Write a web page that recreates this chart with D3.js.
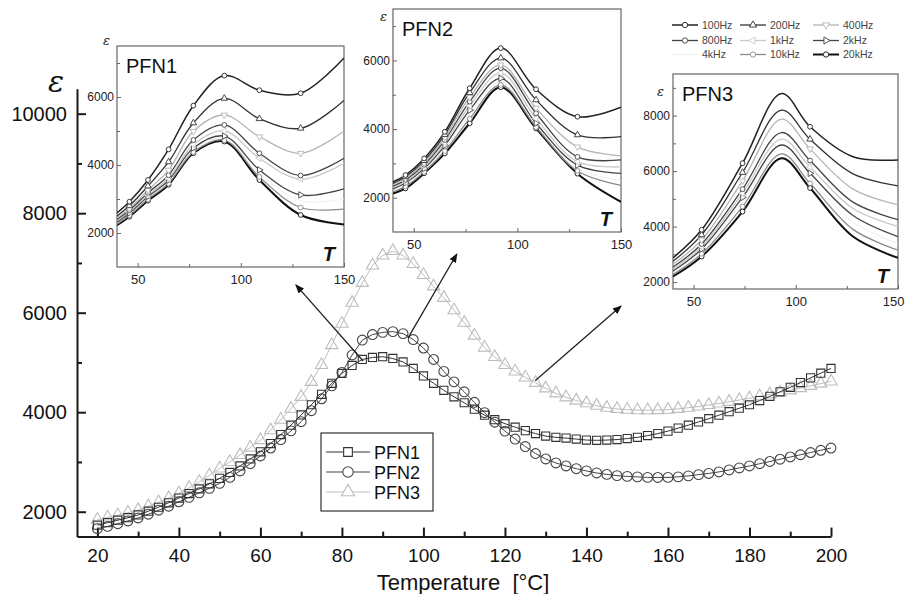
<!DOCTYPE html>
<html>
<head>
<meta charset="utf-8">
<script src="https://cdn.jsdelivr.net/npm/d3@7"></script>
<style>
  body { margin: 0; background: #fff; }
  svg { display: block; font-family: "Liberation Sans", Arial, sans-serif; }
</style>
</head>
<body>
<script>
// main chart data (temperature in °C, permittivity)
const temps = [20, 22.5, 25, 27.5, 30, 32.5, 35, 37.5, 40, 42.5, 45, 47.5, 50, 52.5, 55, 57.5, 60, 62.5, 65, 67.5,
  70, 72.5, 75, 77.5, 80, 82.5, 85, 87.5, 90, 92.5, 95, 97.5, 100, 102.5, 105, 107.5, 110, 112.5, 115, 117.5,
  120, 122.5, 125, 127.5, 130, 132.5, 135, 137.5, 140, 142.5, 145, 147.5, 150, 152.5, 155, 157.5, 160, 162.5,
  165, 167.5, 170, 172.5, 175, 177.5, 180, 182.5, 185, 187.5, 190, 192.5, 195, 197.5, 200];

const pfn1 = [1730, 1780, 1830, 1880, 1935, 2010, 2090, 2180, 2275, 2365, 2460, 2560, 2670, 2790, 2920, 3060, 3205, 3370, 3550, 3740,
  3945, 4150, 4360, 4580, 4780, 4940, 5060, 5100, 5115, 5080, 5010, 4880, 4730, 4580, 4440, 4310, 4190, 4060, 3940, 3850,
  3770, 3700, 3630, 3570, 3520, 3495, 3480, 3460, 3440, 3435, 3440, 3450, 3470, 3495, 3530, 3570, 3620, 3680,
  3740, 3805, 3870, 3940, 4010, 4080, 4150, 4235, 4320, 4410, 4500, 4595, 4690, 4785, 4880];

const pfn2 = [1660, 1705, 1760, 1815, 1875, 1950, 2030, 2110, 2200, 2290, 2380, 2470, 2570, 2690, 2820, 2965, 3120, 3280, 3450, 3625,
  3810, 4030, 4270, 4530, 4800, 5150, 5450, 5560, 5605, 5620, 5580, 5460, 5290, 5060, 4820, 4610, 4410, 4200, 3990, 3800,
  3620, 3460, 3310, 3170, 3060, 2980, 2920, 2865, 2820, 2780, 2750, 2725, 2710, 2700, 2690, 2688, 2690, 2700,
  2720, 2745, 2770, 2800, 2840, 2880, 2920, 2965, 3010, 3055, 3100, 3145, 3190, 3235, 3280];

const pfn3 = [1840, 1885, 1930, 1980, 2035, 2110, 2190, 2275, 2370, 2480, 2600, 2730, 2870, 3000, 3140, 3290, 3440, 3640, 3850, 4070,
  4310, 4610, 4950, 5350, 5780, 6200, 6600, 6950, 7150, 7240, 7150, 6980, 6760, 6530, 6300, 6050, 5800, 5540, 5300, 5110,
  4950, 4820, 4700, 4590, 4480, 4380, 4300, 4235, 4180, 4130, 4090, 4065, 4050, 4042, 4040, 4043, 4050, 4068,
  4090, 4115, 4145, 4175, 4210, 4245, 4280, 4320, 4360, 4400, 4440, 4485, 4530, 4575, 4620];

const seriesNames = ["PFN1", "PFN2", "PFN3"];
const xTicks = [20, 40, 60, 80, 100, 120, 140, 160, 180, 200];
const xMinor = [30, 50, 70, 90, 110, 130, 150, 170, 190];
const yTicks = [2000, 4000, 6000, 8000, 10000];
const yMinor = [3000, 5000, 7000, 9000];

// inset data: one row per frequency
const freqNames = ["100Hz", "200Hz", "400Hz", "800Hz", "1kHz", "2kHz", "4kHz", "10kHz", "20kHz"];
const insetT = [40, 46, 55, 65, 77, 92, 109, 129, 150];
const pfn1Freq = [
  [2590, 2920, 3560, 4460, 5745, 6630, 6200, 6110, 7150],
  [2500, 2800, 3380, 4090, 5235, 5960, 5360, 5080, 5900],
  [2440, 2720, 3260, 3850, 4990, 5470, 4830, 4345, 5000],
  [2400, 2670, 3180, 3700, 4735, 5180, 4345, 3690, 4200],
  [2360, 2630, 3120, 3610, 4600, 5000, 4200, 3580, 4050],
  [2320, 2590, 3070, 3550, 4500, 4850, 3855, 3120, 3300],
  [2290, 2560, 3030, 3510, 4440, 4780, 3750, 2950, 3000],
  [2260, 2520, 2990, 3460, 4380, 4735, 3650, 2750, 2700],
  [2230, 2480, 2950, 3420, 4345, 4690, 3560, 2530, 2250]
];
const pfn2Freq = [
  [2460, 2660, 3145, 3920, 5190, 6360, 5160, 4360, 4635],
  [2420, 2610, 3080, 3840, 5060, 6070, 4850, 3830, 3780],
  [2380, 2560, 3020, 3760, 4930, 5870, 4610, 3480, 3220],
  [2340, 2520, 2960, 3680, 4800, 5775, 4460, 3190, 3100],
  [2300, 2470, 2900, 3600, 4680, 5630, 4310, 3050, 2900],
  [2260, 2430, 2850, 3520, 4550, 5480, 4170, 2950, 2710],
  [2220, 2380, 2800, 3440, 4430, 5380, 4100, 2850, 2500],
  [2170, 2330, 2750, 3360, 4300, 5290, 4060, 2780, 2360],
  [2120, 2270, 2710, 3290, 4170, 5220, 4020, 2700, 1880]
];
const insetT3 = [40, 54, 74, 93, 107, 128, 150];
const pfn3Freq = [
  [2870, 3885, 6285, 8800, 7600, 6520, 6400],
  [2750, 3700, 5950, 8200, 7150, 5900, 5470],
  [2640, 3520, 5650, 7870, 6800, 5350, 4780],
  [2540, 3370, 5350, 7390, 6380, 4880, 4250],
  [2470, 3280, 5200, 7150, 6150, 4650, 4000],
  [2400, 3190, 5050, 6940, 5920, 4400, 3640],
  [2340, 3110, 4900, 6800, 5750, 4150, 3400],
  [2270, 3020, 4720, 6620, 5560, 3900, 3150],
  [2200, 2920, 4540, 6460, 5390, 3640, 2870]
];

// arrows from the main curves to the insets, in data units [T, eps]
const arrowFrom = [[85.2, 5030], [96.2, 5490], [127.4, 4630]];
const arrowTo = [[68.7, 6560], [108.2, 7180], [148.5, 6135]];

const W = 906, H = 594;
const svg = d3.select("body").append("svg").attr("width", W).attr("height", H);

const x = d3.scaleLinear().domain([15, 200]).range([77, 831]);
const y = d3.scaleLinear().domain([1500, 10500]).range([536.6, 88.8]);
const fmt = d3.format("d");

// axes
const axisCol = "#1a1a1a";
const yAx = svg.append("g").attr("transform", "translate(77,0)")
  .call(d3.axisLeft(y).tickValues(yTicks).tickFormat(fmt).tickSize(-9).tickSizeOuter(0).tickPadding(10));
svg.append("g").attr("transform", "translate(77,0)")
  .call(d3.axisLeft(y).tickValues(yMinor).tickSize(-5).tickFormat("").tickSizeOuter(0))
  .select(".domain").remove();
const xAx = svg.append("g").attr("transform", "translate(0,536.6)")
  .call(d3.axisBottom(x).tickValues(xTicks).tickFormat(fmt).tickSize(-9).tickSizeOuter(0).tickPadding(12));
svg.append("g").attr("transform", "translate(0,536.6)")
  .call(d3.axisBottom(x).tickValues(xMinor).tickSize(-5).tickFormat("").tickSizeOuter(0))
  .select(".domain").remove();
svg.selectAll(".domain, .tick line").attr("stroke", axisCol).attr("stroke-width", 2);
yAx.selectAll("text").attr("font-size", 20).attr("fill", "#111");
xAx.selectAll("text").attr("font-size", 19).attr("fill", "#111");

svg.append("text").attr("x", 463).attr("y", 590).attr("text-anchor", "middle")
  .style("white-space", "pre")
  .attr("font-size", 22).attr("fill", "#111").text("Temperature  [°C]");
svg.append("text").attr("x", 48).attr("y", 92).attr("font-family", "DejaVu Serif")
  .attr("font-style", "italic").attr("font-size", 30).attr("fill", "#111").text("ε");

// main series
const mainColor = ["#333", "#444", "#bdbdbd"];
const mainSymbol = [d3.symbolSquare, d3.symbolCircle, d3.symbolTriangle];
const mainSize = [66, 76, 66];
const mainSeries = [pfn1, pfn2, pfn3];

const line = d3.line().x((d, i) => x(temps[i])).y(d => y(d));
[2, 1, 0].forEach(s => {
  const g = svg.append("g");
  g.append("path").datum(mainSeries[s]).attr("d", line)
    .attr("fill", "none").attr("stroke", mainColor[s]).attr("stroke-width", 1);
  g.selectAll("path.m").data(mainSeries[s]).enter().append("path").attr("class", "m")
    .attr("d", d3.symbol().type(mainSymbol[s]).size(mainSize[s]))
    .attr("transform", (d, i) => `translate(${x(temps[i])},${y(d)})`)
    .attr("fill", "none").attr("stroke", mainColor[s]).attr("stroke-width", 1.1);
});

// main legend
const leg = svg.append("g");
leg.append("rect").attr("x", 321).attr("y", 433).attr("width", 112).attr("height", 78)
  .attr("fill", "#fff").attr("stroke", "#333").attr("stroke-width", 1.2);
seriesNames.forEach((n, i) => {
  const ly = 452 + i * 20;
  leg.append("line").attr("x1", 326).attr("x2", 370).attr("y1", ly).attr("y2", ly)
    .attr("stroke", mainColor[i]).attr("stroke-width", 1.2);
  leg.append("path").attr("d", d3.symbol().type(mainSymbol[i]).size(mainSize[i] * 1.15)())
    .attr("transform", `translate(348,${ly})`).attr("fill", "#fff")
    .attr("stroke", mainColor[i]).attr("stroke-width", 1.1);
  leg.append("text").attr("x", 374).attr("y", ly + 6.5).attr("font-size", 18)
    .attr("fill", "#111").text(n);
});

// arrows
svg.append("defs").append("marker").attr("id", "ah").attr("viewBox", "0 0 10 10")
  .attr("refX", 9).attr("refY", 5).attr("markerWidth", 7).attr("markerHeight", 7)
  .attr("orient", "auto").append("path").attr("d", "M0,1L10,5L0,9Z").attr("fill", "#111");
arrowFrom.forEach((f, i) => {
  svg.append("line").attr("x1", x(f[0])).attr("y1", y(f[1]))
    .attr("x2", x(arrowTo[i][0])).attr("y2", y(arrowTo[i][1]))
    .attr("stroke", "#222").attr("stroke-width", 1.3).attr("marker-end", "url(#ah)");
});

// inset frequency styles
const fColor = ["#222", "#333", "#b5b5b5", "#444", "#c9c9c9", "#444", "#efefef", "#8a8a8a", "#111"];
const fWidth = [1.5, 1.3, 1.3, 1.3, 1.3, 1.3, 1, 1.3, 2];
const fSymbol = [d3.symbolCircle, d3.symbolTriangle, d3.symbolTriangle, d3.symbolCircle, d3.symbolTriangle,
  d3.symbolTriangle, d3.symbolCircle, d3.symbolCircle, d3.symbolCircle];
const fRot = [0, 0, 180, 0, 270, 90, 0, 0, 0];

const insets = [
  { name: "PFN1", T: insetT, data: pfn1Freq, x0: 117, x1: 344, y0: 46, y1: 267, yDom: [1000, 7500],
    yT: [2000, 4000, 6000], yM: [3000, 5000, 7000], eps: [103, 45], marks: [1, 2, 3, 4, 5, 6, 7] },
  { name: "PFN2", T: insetT, data: pfn2Freq, x0: 393, x1: 621, y0: 9, y1: 232, yDom: [1000, 7500],
    yT: [2000, 4000, 6000], yM: [3000, 5000, 7000], eps: [380, 21], marks: [1, 2, 3, 4, 5, 6, 7] },
  { name: "PFN3", T: insetT3, data: pfn3Freq, x0: 673, x1: 898, y0: 74, y1: 289, yDom: [1750, 9500],
    yT: [2000, 4000, 6000, 8000], yM: [3000, 5000, 7000, 9000], eps: [657, 96], marks: [1, 2, 4] }
];

insets.forEach((c, k) => {
  const g = svg.append("g");
  const ix = d3.scaleLinear().domain([40, 150]).range([c.x0, c.x1]);
  const iy = d3.scaleLinear().domain(c.yDom).range([c.y1, c.y0]);
  g.append("rect").attr("x", c.x0).attr("y", c.y0).attr("width", c.x1 - c.x0).attr("height", c.y1 - c.y0)
    .attr("fill", "#fff").attr("stroke", "#666").attr("stroke-width", 1.2);

  const bx = g.append("g").attr("transform", `translate(0,${c.y1})`)
    .call(d3.axisBottom(ix).tickValues([50, 100, 150]).tickFormat(fmt).tickSize(-4).tickSizeOuter(0).tickPadding(8));
  g.append("g").attr("transform", `translate(0,${c.y1})`)
    .call(d3.axisBottom(ix).tickValues([75, 125]).tickSize(-3).tickFormat("").tickSizeOuter(0));
  const ly = g.append("g").attr("transform", `translate(${c.x0},0)`)
    .call(d3.axisLeft(iy).tickValues(c.yT).tickFormat(fmt).tickSize(-4).tickSizeOuter(0).tickPadding(3));
  g.append("g").attr("transform", `translate(${c.x0},0)`)
    .call(d3.axisLeft(iy).tickValues(c.yM).tickSize(-3).tickFormat("").tickSizeOuter(0));
  g.selectAll(".domain").remove();
  g.selectAll(".tick line").attr("stroke", "#666");
  bx.selectAll("text").attr("font-size", 13).attr("fill", "#222");
  ly.selectAll("text").attr("font-size", 12).attr("fill", "#222");
  // keep the last label inside the page for the right-hand inset
  if (c.x1 > W - 12) {
    bx.selectAll(".tick").filter(d => d === 150).select("text")
      .attr("text-anchor", "end").attr("x", W - 2 - c.x1);
  }

  const clipId = "clip" + k;
  g.append("clipPath").attr("id", clipId).append("rect")
    .attr("x", c.x0).attr("y", c.y0).attr("width", c.x1 - c.x0).attr("height", c.y1 - c.y0);
  const cg = g.append("g").attr("clip-path", `url(#${clipId})`);
  const ln = d3.line().curve(d3.curveCatmullRom.alpha(0.5))
    .x((d, i) => ix(c.T[i])).y(d => iy(d));
  const order = [6, 8, 7, 5, 4, 3, 2, 1, 0];
  order.forEach(f => {
    cg.append("path").datum(c.data[f]).attr("d", ln).attr("fill", "none")
      .attr("stroke", fColor[f]).attr("stroke-width", fWidth[f]);
  });
  order.forEach(f => {
    if (f === 6) return;
    cg.selectAll(null).data(c.marks).enter().append("path")
      .attr("d", d3.symbol().type(fSymbol[f]).size(18))
      .attr("transform", i => `translate(${ix(c.T[i])},${iy(c.data[f][i])}) rotate(${fRot[f]})`)
      .attr("fill", "#fff").attr("stroke", fColor[f]).attr("stroke-width", 0.9);
  });

  g.append("text").attr("x", c.x0 + 9).attr("y", c.y0 + 27).attr("font-size", 20)
    .attr("fill", "#111").text(c.name);
  g.append("text").attr("x", c.x1 - 9).attr("y", c.y1 - 6).attr("text-anchor", "end")
    .attr("font-size", 20).attr("font-weight", "bold").attr("font-style", "italic")
    .attr("fill", "#111").text("T");
  g.append("text").attr("x", c.eps[0]).attr("y", c.eps[1]).attr("font-family", "DejaVu Serif")
    .attr("font-style", "italic").attr("font-size", 13).attr("fill", "#222").text("ε");
});

// frequency legend (top right)
const fl = svg.append("g");
freqNames.forEach((n, i) => {
  const col = i % 3, row = Math.floor(i / 3);
  const lx = [672, 740, 813][col], ty = [25, 40.5, 54.5][row];
  fl.append("line").attr("x1", lx).attr("x2", lx + 26).attr("y1", ty).attr("y2", ty)
    .attr("stroke", fColor[i]).attr("stroke-width", fWidth[i]);
  if (i !== 6) {
    fl.append("path").attr("d", d3.symbol().type(fSymbol[i]).size(22)())
      .attr("transform", `translate(${lx + 13},${ty}) rotate(${fRot[i]})`)
      .attr("fill", "#fff").attr("stroke", fColor[i]).attr("stroke-width", 0.9);
  }
  fl.append("text").attr("x", lx + 30).attr("y", ty + 3.8).attr("font-size", 10.5)
    .attr("fill", "#444").text(n);
});
</script>
</body>
</html>
